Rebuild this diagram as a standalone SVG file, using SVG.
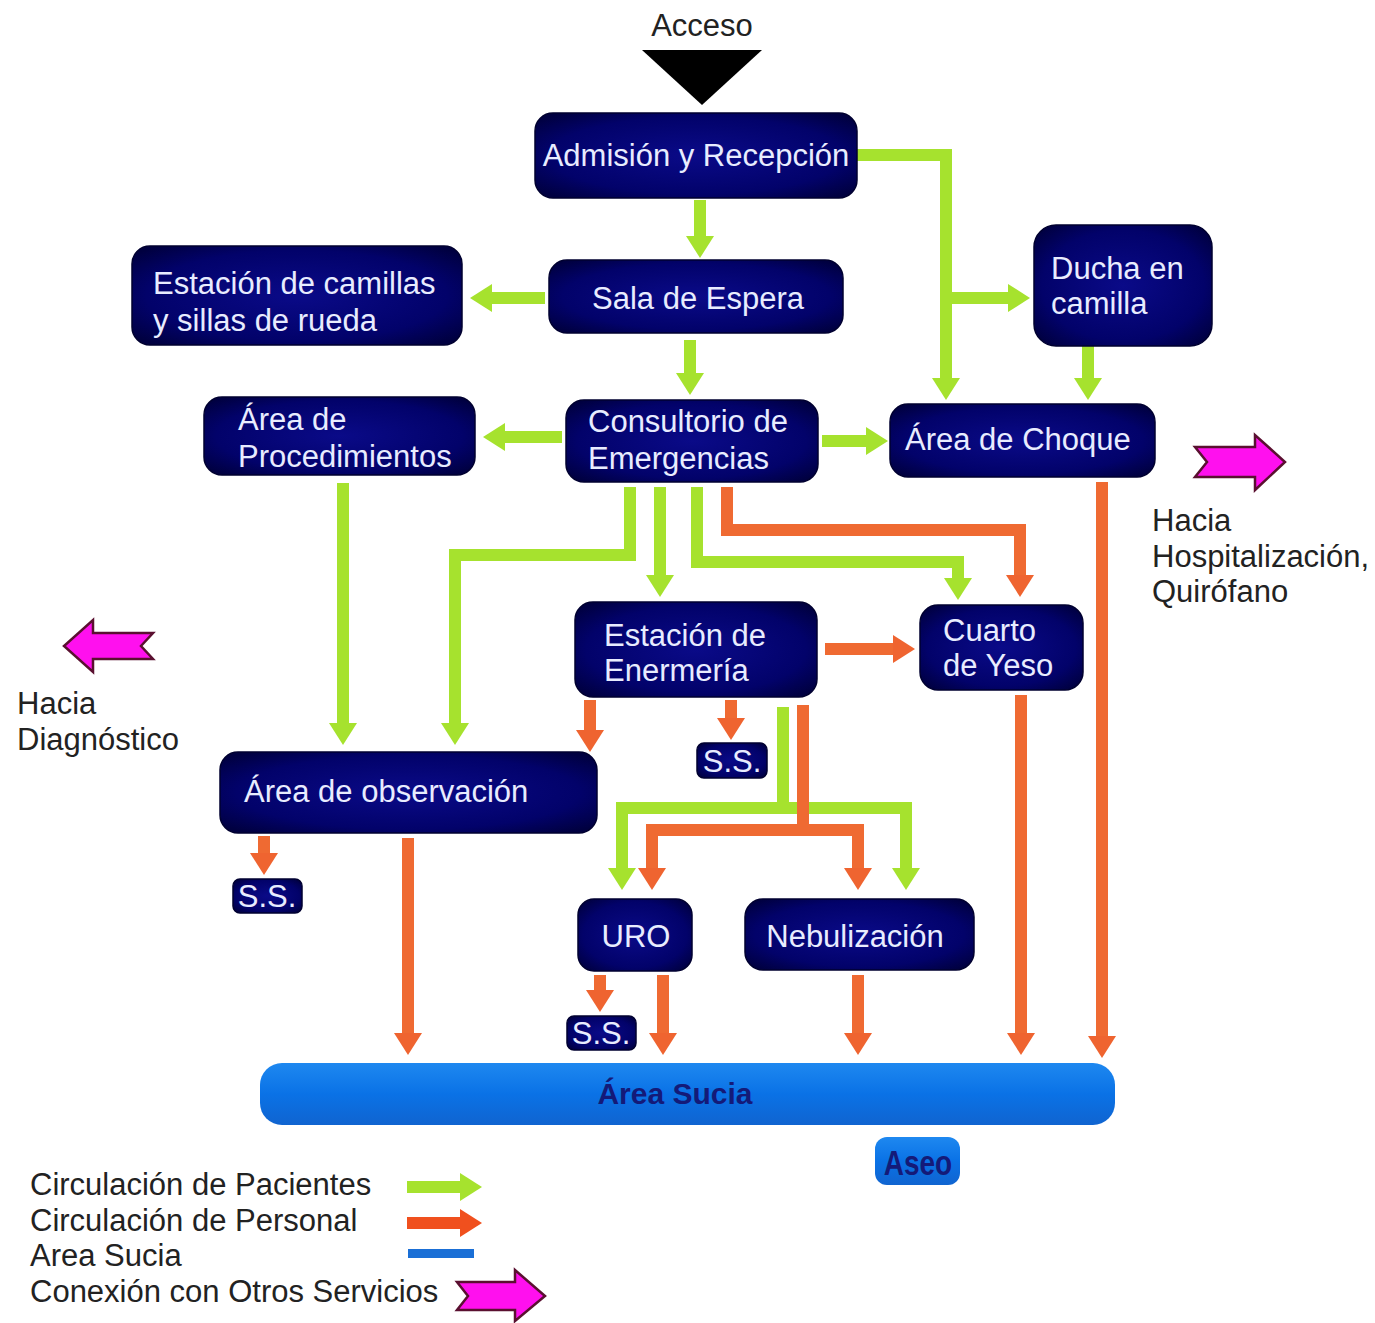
<svg xmlns="http://www.w3.org/2000/svg" width="1375" height="1323" viewBox="0 0 1375 1323">
  <style>
    .node { fill: url(#navy); stroke: #000030; stroke-width: 1.5; }
    .lbl { font-family: "Liberation Sans", Arial, sans-serif; font-size: 31px; fill: #e8ecff; }
    .mid { text-anchor: middle; }
    .dark { font-family: "Liberation Sans", Arial, sans-serif; font-size: 31px; fill: #222; }
    .pac { fill: none; stroke: #a6e22e; stroke-width: 12; stroke-linejoin: miter; }
    .per { fill: none; stroke: #ef6a32; stroke-width: 12; stroke-linejoin: miter; }
    .hg { fill: #a6e22e; }
    .ho { fill: #ef6430; }
    .conn { fill: #ff10ee; stroke: #5a1030; stroke-width: 2.5; stroke-linejoin: miter; }
    .dirty { fill: url(#blue); }
    .dtxt { font-family: "Liberation Sans", Arial, sans-serif; font-weight: bold; fill: #141a78; text-anchor: middle; }
  </style>
  <defs>
    <radialGradient id="navy" cx="50%" cy="50%" r="65%">
      <stop offset="0" stop-color="#0a0a88"/>
      <stop offset="0.7" stop-color="#02026a"/>
      <stop offset="1" stop-color="#000040"/>
    </radialGradient>
    <linearGradient id="blue" x1="0" y1="0" x2="0" y2="1">
      <stop offset="0" stop-color="#1e88f0"/>
      <stop offset="0.5" stop-color="#0a72e6"/>
      <stop offset="1" stop-color="#1064d0"/>
    </linearGradient>
    <!-- arrowheads, drawn pointing right at origin -->
    <path id="headG" class="hg" d="M0,0 L-22,-14 L-22,14 Z"/>
    <path id="headO" class="ho" d="M0,0 L-22,-14 L-22,14 Z"/>
  </defs>

  <rect width="1375" height="1323" fill="#ffffff"/>

  <!-- entrance -->
  <g id="acceso">
    <text x="702" y="36" class="dark mid" font-size="32">Acceso</text>
    <polygon points="642,50 762,50 702,105" fill="#000"/>
  </g>

  <!-- connectors -->
  <g id="connectors">
    <!-- patient circulation -->
    <g id="patients">
      <path class="pac" d="M700,200 V238"/>
      <use href="#headG" transform="translate(700,258) rotate(90)"/>
      <path class="pac" d="M857,155 H946 V380"/>
      <use href="#headG" transform="translate(946,400) rotate(90)"/>
      <path class="pac" d="M946,298 H1010"/>
      <use href="#headG" transform="translate(1030,298)"/>
      <path class="pac" d="M1088,346 V380"/>
      <use href="#headG" transform="translate(1088,400) rotate(90)"/>
      <path class="pac" d="M545,298 H492"/>
      <use href="#headG" transform="translate(470,298) rotate(180)"/>
      <path class="pac" d="M690,340 V375"/>
      <use href="#headG" transform="translate(690,395) rotate(90)"/>
      <path class="pac" d="M562,437 H505"/>
      <use href="#headG" transform="translate(483,437) rotate(180)"/>
      <path class="pac" d="M822,441 H866"/>
      <use href="#headG" transform="translate(888,441)"/>
      <path class="pac" d="M343,483 V725"/>
      <use href="#headG" transform="translate(343,745) rotate(90)"/>
      <path class="pac" d="M630,487 V555 H455 V725"/>
      <use href="#headG" transform="translate(455,745) rotate(90)"/>
      <path class="pac" d="M660,487 V576"/>
      <use href="#headG" transform="translate(660,597) rotate(90)"/>
      <path class="pac" d="M697,487 V562 H958 V578"/>
      <use href="#headG" transform="translate(958,600) rotate(90)"/>
      <path class="pac" d="M783,707 V808"/>
      <path class="pac" d="M622,870 V808 H906 V870"/>
      <use href="#headG" transform="translate(622,890) rotate(90)"/>
      <use href="#headG" transform="translate(906,890) rotate(90)"/>
    </g>
    <!-- staff circulation -->
    <g id="staff">
      <path class="per" d="M727,487 V530 H1020 V575"/>
      <use href="#headO" transform="translate(1020,597) rotate(90)"/>
      <path class="per" d="M825,649 H893"/>
      <use href="#headO" transform="translate(915,649)"/>
      <path class="per" d="M590,700 V730"/>
      <use href="#headO" transform="translate(590,752) rotate(90)"/>
      <path class="per" d="M731,700 V718"/>
      <use href="#headO" transform="translate(731,740) rotate(90)"/>
      <path class="per" d="M803,705 V830"/>
      <path class="per" d="M652,870 V830 H858 V870"/>
      <use href="#headO" transform="translate(652,890) rotate(90)"/>
      <use href="#headO" transform="translate(858,890) rotate(90)"/>
      <path class="per" d="M264,836 V853"/>
      <use href="#headO" transform="translate(264,875) rotate(90)"/>
      <path class="per" d="M408,838 V1033"/>
      <use href="#headO" transform="translate(408,1055) rotate(90)"/>
      <path class="per" d="M600,975 V990"/>
      <use href="#headO" transform="translate(600,1012) rotate(90)"/>
      <path class="per" d="M663,975 V1033"/>
      <use href="#headO" transform="translate(663,1055) rotate(90)"/>
      <path class="per" d="M858,975 V1033"/>
      <use href="#headO" transform="translate(858,1055) rotate(90)"/>
      <path class="per" d="M1021,695 V1033"/>
      <use href="#headO" transform="translate(1021,1055) rotate(90)"/>
      <path class="per" d="M1102,482 V1036"/>
      <use href="#headO" transform="translate(1102,1058) rotate(90)"/>
    </g>
  </g>

  <!-- rooms -->
  <g id="admision">
    <rect class="node" x="535" y="113" width="322" height="85" rx="18"/>
    <text x="696" y="166" class="lbl mid">Admisión y Recepción</text>
  </g>
  <g id="camillas">
    <rect class="node" x="132" y="246" width="330" height="99" rx="18"/>
    <text x="153" y="294" class="lbl">Estación de camillas</text>
    <text x="153" y="331" class="lbl">y sillas de rueda</text>
  </g>
  <g id="sala-espera">
    <rect class="node" x="549" y="260" width="294" height="73" rx="18"/>
    <text x="698" y="309" class="lbl mid">Sala de Espera</text>
  </g>
  <g id="ducha">
    <rect class="node" x="1034" y="225" width="178" height="121" rx="22"/>
    <text x="1051" y="279" class="lbl">Ducha en</text>
    <text x="1051" y="314" class="lbl">camilla</text>
  </g>
  <g id="procedimientos">
    <rect class="node" x="204" y="397" width="271" height="78" rx="18"/>
    <text x="238" y="430" class="lbl">Área de</text>
    <text x="238" y="467" class="lbl">Procedimientos</text>
  </g>
  <g id="consultorio">
    <rect class="node" x="566" y="400" width="252" height="82" rx="18"/>
    <text x="588" y="432" class="lbl">Consultorio de</text>
    <text x="588" y="469" class="lbl">Emergencias</text>
  </g>
  <g id="choque">
    <rect class="node" x="890" y="404" width="265" height="73" rx="18"/>
    <text x="905" y="450" class="lbl">Área de Choque</text>
  </g>
  <g id="enfermeria">
    <rect class="node" x="575" y="602" width="242" height="95" rx="18"/>
    <text x="604" y="646" class="lbl">Estación de</text>
    <text x="604" y="681" class="lbl">Enermería</text>
  </g>
  <g id="yeso">
    <rect class="node" x="920" y="605" width="163" height="85" rx="18"/>
    <text x="943" y="641" class="lbl">Cuarto</text>
    <text x="943" y="676" class="lbl">de Yeso</text>
  </g>
  <g id="observacion">
    <rect class="node" x="220" y="752" width="377" height="81" rx="18"/>
    <text x="244" y="802" class="lbl">Área de observación</text>
  </g>
  <g id="ss-enfermeria">
    <rect class="node" x="697" y="743" width="70" height="35" rx="7"/>
    <text x="732" y="772" class="lbl mid">S.S.</text>
  </g>
  <g id="ss-observacion">
    <rect class="node" x="233" y="879" width="69" height="34" rx="7"/>
    <text x="267" y="907" class="lbl mid">S.S.</text>
  </g>
  <g id="ss-uro">
    <rect class="node" x="567" y="1016" width="69" height="34" rx="7"/>
    <text x="601" y="1044" class="lbl mid">S.S.</text>
  </g>
  <g id="uro">
    <rect class="node" x="578" y="899" width="114" height="72" rx="16"/>
    <text x="636" y="947" class="lbl mid">URO</text>
  </g>
  <g id="nebulizacion">
    <rect class="node" x="745" y="899" width="229" height="71" rx="18"/>
    <text x="855" y="947" class="lbl mid">Nebulización</text>
  </g>
  <g id="area-sucia">
    <rect class="dirty" x="260" y="1063" width="855" height="62" rx="22"/>
    <text x="675" y="1104" class="dtxt" font-size="30">Área Sucia</text>
  </g>
  <g id="aseo">
    <rect class="dirty" x="875" y="1137" width="85" height="48" rx="12"/>
    <text x="918" y="1175" class="dtxt" font-size="35" transform="translate(918,0) scale(0.8,1) translate(-918,0)">Aseo</text>
  </g>

  <!-- links to other services -->
  <g id="hacia-hospitalizacion">
    <path class="conn" d="M1195,447 H1255 V435 L1285,462 L1255,490 V477 H1195 L1207,462 Z"/>
    <text x="1152" y="531" class="dark">Hacia</text>
    <text x="1152" y="567" class="dark">Hospitalización,</text>
    <text x="1152" y="602" class="dark">Quirófano</text>
  </g>
  <g id="hacia-diagnostico">
    <path class="conn" d="M153,633 H93 V620 L64,646 L93,672 V659 H153 L141,646 Z"/>
    <text x="17" y="714" class="dark">Hacia</text>
    <text x="17" y="750" class="dark">Diagnóstico</text>
  </g>

  <!-- legend -->
  <g id="legend">
    <text x="30" y="1195" class="dark">Circulación de Pacientes</text>
    <text x="30" y="1231" class="dark">Circulación de Personal</text>
    <text x="30" y="1266" class="dark">Area Sucia</text>
    <text x="30" y="1302" class="dark">Conexión con Otros Servicios</text>
    <path class="pac" d="M407,1187 H462"/>
    <use href="#headG" transform="translate(482,1187)"/>
    <path d="M407,1223 H462" fill="none" stroke="#f0501e" stroke-width="12"/>
    <path d="M482,1223 L460,1209 L460,1237 Z" fill="#f0501e"/>
    <rect x="408" y="1249" width="66" height="9" fill="#1a6fd6"/>
    <path class="conn" d="M457,1282 H515 V1270 L545,1296 L515,1321 V1310 H457 L468,1296 Z"/>
  </g>
</svg>
